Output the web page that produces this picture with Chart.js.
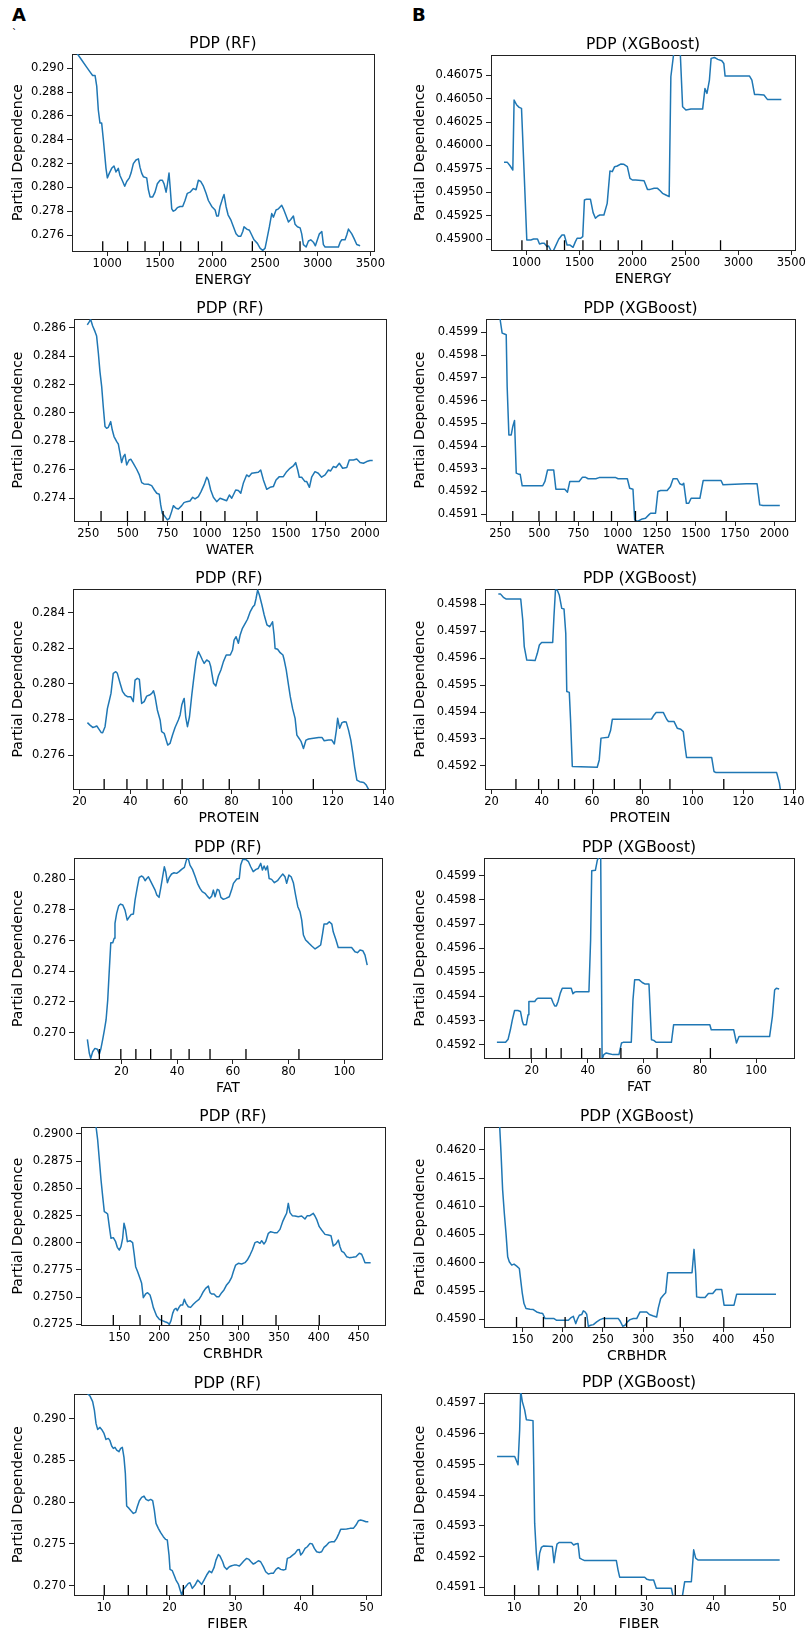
<!DOCTYPE html>
<html>
<head>
<meta charset="utf-8">
<script src="https://cdn.jsdelivr.net/npm/chart.js@4.4.1/dist/chart.umd.min.js"></script>
<style>
  body { margin: 0; background: #fff; width: 807px; height: 1637px; position: relative; overflow: hidden; font-family: 'DejaVu Sans', sans-serif; }
  canvas { position: absolute; }
  .tag { position: absolute; font-weight: bold; font-size: 18px; line-height: 18px; color: #000; }
</style>
</head>
<body>
<div class="tag" style="left:12px;top:6px">A</div>
<div class="tag" style="left:412px;top:6px">B</div>
<div class="tag" style="left:12px;top:25px;font-size:10px;font-weight:normal">`</div>
<script>
// x ranges of each feature (shared by the RF and XGBoost panels)
var energyRange = [665, 3535];
var waterRange = [160, 2132];
var proteinRange = [17.4, 140.6];
var fatRange = [3.0, 113.5];
var crbRange = [102, 483];
var fiberRange = [5.45, 52.2];

// deciles drawn as the rug at the bottom
var energyDeciles = [957, 1194, 1359, 1533, 1698, 1866, 2088, 2379, 2832];
var waterDeciles = [331, 498, 608, 723, 845, 961, 1114, 1317, 1693];
var proteinDeciles = [29.7, 38.7, 46.6, 53, 60.5, 68.8, 79.1, 90.9, 112.3];
var fatDeciles = [12.1, 19.8, 25.2, 30.5, 37.8, 44.3, 51.8, 64.7, 83.7];
var crbDeciles = [142.5, 176, 203, 228, 252, 279.6, 304.6, 346.4, 400.6];
var fiberDeciles = [10.06, 13.72, 16.52, 19.57, 22.1, 25.3, 29.2, 34.3, 41.8];

// x tick labels
var energyXTicks = [1000, 1500, 2000, 2500, 3000, 3500];
var waterXTicks = [250, 500, 750, 1000, 1250, 1500, 1750, 2000];
var proteinXTicks = [20, 40, 60, 80, 100, 120, 140];
var fatXTicks = [20, 40, 60, 80, 100];
var crbXTicks = [150, 200, 250, 300, 350, 400, 450];
var fiberXTicks = [10, 20, 30, 40, 50];

// y tick labels
var energyRfTicks = [0.276, 0.278, 0.280, 0.282, 0.284, 0.286, 0.288, 0.290];
var energyXgbTicks = [0.45900, 0.45925, 0.45950, 0.45975, 0.46000, 0.46025, 0.46050, 0.46075];
var waterRfTicks = [0.274, 0.276, 0.278, 0.280, 0.282, 0.284, 0.286];
var waterXgbTicks = [0.4591, 0.4592, 0.4593, 0.4594, 0.4595, 0.4596, 0.4597, 0.4598, 0.4599];
var proteinRfTicks = [0.276, 0.278, 0.280, 0.282, 0.284];
var proteinXgbTicks = [0.4592, 0.4593, 0.4594, 0.4595, 0.4596, 0.4597, 0.4598];
var fatRfTicks = [0.270, 0.272, 0.274, 0.276, 0.278, 0.280];
var fatXgbTicks = [0.4592, 0.4593, 0.4594, 0.4595, 0.4596, 0.4597, 0.4598, 0.4599];
var crbRfTicks = [0.2725, 0.2750, 0.2775, 0.2800, 0.2825, 0.2850, 0.2875, 0.2900];
var crbXgbTicks = [0.4590, 0.4595, 0.4600, 0.4605, 0.4610, 0.4615, 0.4620];
var fiberRfTicks = [0.270, 0.275, 0.280, 0.285, 0.290];
var fiberXgbTicks = [0.4591, 0.4592, 0.4593, 0.4594, 0.4595, 0.4596, 0.4597];

// y limits of each panel
var energyRfLim = [0.27466, 0.2912];
var energyXgbLim = [0.458886, 0.460964];
var waterRfLim = [0.2724, 0.28661];
var waterXgbLim = [0.459070, 0.459959];
var proteinRfLim = [0.27409, 0.28533];
var proteinXgbLim = [0.459114, 0.459857];
var fatRfLim = [0.26829, 0.28137];
var fatXgbLim = [0.459145, 0.459974];
var crbRfLim = [0.27244, 0.29064];
var crbXgbLim = [0.458863, 0.462403];
var fiberRfLim = [0.26889, 0.29296];
var fiberXgbLim = [0.459075, 0.459733];

// partial dependence curves
var energyRfX = [709,757,804,836,861,884,900,915,931,947,963,988,1001,1020,1042,1064,1083,1105,1121,1147,1166,1185,1210,1226,1248,1273,1296,1311,1327,1343,1375,1391,1407,1432,1454,1476,1502,1524,1540,1559,1571,1587,1597,1613,1628,1647,1666,1692,1717,1739,1761,1787,1818,1844,1866,1888,1914,1939,1961,1993,2025,2040,2056,2072,2097,2110,2129,2148,2173,2199,2224,2246,2269,2288,2300,2326,2351,2373,2395,2427,2452,2478,2500,2516,2541,2563,2579,2604,2627,2658,2674,2696,2722,2744,2769,2785,2807,2833,2848,2864,2890,2912,2934,2959,2978,2997,3016,3039,3054,3070,3102,3149,3197,3213,3229,3260,3276,3292,3324,3346,3371,3403];
var energyRfY = [0.2913,0.2907,0.2901,0.2897,0.2894,0.2894,0.2885,0.2865,0.2854,0.2854,0.2840,0.2816,0.2808,0.2812,0.2816,0.2818,0.2813,0.2816,0.2810,0.2805,0.2801,0.2805,0.2808,0.2812,0.2820,0.2823,0.2824,0.2817,0.2812,0.2809,0.2808,0.2798,0.2792,0.2792,0.2796,0.2803,0.2806,0.2806,0.2803,0.2796,0.2802,0.2812,0.2801,0.2782,0.2780,0.2781,0.2783,0.2784,0.2784,0.2789,0.2795,0.2796,0.2799,0.2798,0.2806,0.2805,0.2801,0.2795,0.2789,0.2784,0.2781,0.2776,0.2776,0.2784,0.2791,0.2794,0.2784,0.2777,0.2773,0.2767,0.2761,0.2759,0.2759,0.2763,0.2767,0.2765,0.2764,0.2760,0.2756,0.2753,0.2749,0.2747,0.2749,0.2756,0.2767,0.2778,0.2775,0.2781,0.2782,0.2785,0.2782,0.2777,0.2771,0.2773,0.2776,0.2769,0.2767,0.2766,0.2761,0.2752,0.2750,0.2755,0.2756,0.2754,0.2751,0.2756,0.2761,0.2763,0.2752,0.2750,0.2750,0.2750,0.2750,0.2754,0.2756,0.2756,0.2760,0.2765,0.2761,0.2757,0.2752,0.2751];

var energyXgbX = [788,820,845,871,883,908,931,953,978,1003,1041,1067,1104,1123,1146,1168,1193,1209,1231,1250,1272,1304,1335,1357,1383,1408,1440,1462,1478,1509,1531,1547,1566,1604,1629,1651,1674,1693,1731,1762,1788,1810,1832,1857,1889,1920,1952,1977,2000,2031,2110,2126,2142,2167,2205,2237,2262,2284,2316,2347,2363,2388,2410,2452,2474,2505,2553,2616,2663,2685,2704,2727,2743,2774,2806,2844,2863,2875,2916,3106,3128,3153,3185,3242,3274,3312,3406];
var energyXgbY = [0.459820,0.459820,0.459784,0.459738,0.460484,0.460431,0.460406,0.460395,0.459703,0.458993,0.458993,0.459003,0.459003,0.458950,0.458957,0.458957,0.458922,0.458929,0.458879,0.458868,0.458922,0.459000,0.459046,0.459046,0.458940,0.458940,0.458915,0.458975,0.459011,0.459011,0.459028,0.459419,0.459426,0.459426,0.459284,0.459224,0.459248,0.459259,0.459259,0.459383,0.459728,0.459721,0.459774,0.459781,0.459802,0.459799,0.459774,0.459650,0.459632,0.459632,0.459625,0.459579,0.459532,0.459532,0.459543,0.459543,0.459518,0.459490,0.459472,0.459454,0.460732,0.460963,0.461016,0.460981,0.460413,0.460377,0.460388,0.460388,0.460388,0.460608,0.460555,0.460697,0.460928,0.460938,0.460917,0.460903,0.460874,0.460739,0.460739,0.460739,0.460697,0.460544,0.460544,0.460537,0.460491,0.460491,0.460491];

var waterRfX = [244,257,265,278,293,303,314,324,335,345,356,366,377,392,402,413,430,440,451,461,472,482,493,508,520,535,556,573,588,602,630,651,668,683,699,708,718,735,750,763,777,788,805,820,841,855,872,893,910,925,946,963,982,999,1009,1024,1041,1062,1083,1100,1125,1142,1157,1167,1182,1199,1214,1230,1251,1266,1283,1304,1325,1340,1357,1378,1399,1420,1437,1458,1483,1504,1525,1546,1561,1574,1584,1599,1620,1631,1648,1662,1683,1704,1725,1747,1768,1782,1799,1816,1837,1858,1884,1900,1926,1947,1968,1989,2010,2031,2048];
var waterRfY = [0.28619,0.28642,0.28659,0.28612,0.28572,0.28541,0.28420,0.28291,0.28185,0.28044,0.27904,0.27892,0.27899,0.27939,0.27880,0.27834,0.27798,0.27782,0.27716,0.27651,0.27693,0.27709,0.27634,0.27669,0.27674,0.27646,0.27604,0.27564,0.27510,0.27501,0.27498,0.27489,0.27458,0.27435,0.27428,0.27353,0.27294,0.27271,0.27248,0.27259,0.27306,0.27348,0.27330,0.27325,0.27348,0.27369,0.27376,0.27381,0.27407,0.27395,0.27412,0.27447,0.27494,0.27548,0.27529,0.27458,0.27407,0.27376,0.27400,0.27393,0.27383,0.27423,0.27400,0.27423,0.27458,0.27454,0.27435,0.27505,0.27564,0.27552,0.27576,0.27580,0.27583,0.27599,0.27529,0.27463,0.27477,0.27482,0.27529,0.27552,0.27552,0.27587,0.27611,0.27627,0.27651,0.27599,0.27548,0.27548,0.27517,0.27517,0.27477,0.27548,0.27587,0.27576,0.27548,0.27564,0.27599,0.27592,0.27623,0.27616,0.27646,0.27611,0.27616,0.27669,0.27669,0.27676,0.27651,0.27646,0.27658,0.27665,0.27665];

var waterXgbX = [244,252,263,278,289,295,306,321,331,342,353,368,378,391,410,522,536,553,568,592,606,621,663,680,695,706,754,776,793,812,861,882,988,1003,1062,1077,1098,1109,1126,1157,1178,1199,1210,1242,1257,1274,1316,1337,1354,1380,1397,1412,1422,1439,1454,1469,1525,1546,1660,1673,1822,1890,1907,1928,2035];
var waterXgbY = [0.460000,0.459948,0.459897,0.459893,0.459890,0.459662,0.459449,0.459449,0.459486,0.459512,0.459281,0.459276,0.459276,0.459225,0.459225,0.459225,0.459244,0.459295,0.459295,0.459295,0.459210,0.459210,0.459210,0.459197,0.459244,0.459244,0.459244,0.459263,0.459263,0.459256,0.459256,0.459261,0.459261,0.459256,0.459256,0.459214,0.459210,0.459075,0.459068,0.459079,0.459082,0.459097,0.459104,0.459104,0.459200,0.459204,0.459204,0.459222,0.459256,0.459256,0.459234,0.459229,0.459236,0.459148,0.459148,0.459170,0.459170,0.459248,0.459248,0.459229,0.459234,0.459234,0.459141,0.459138,0.459138];

var proteinRfX = [23.1,24.1,25.2,26.1,26.8,27.7,28.5,29.1,30.05,31.0,31.8,32.4,33.3,34.3,34.9,36.0,37.0,37.95,38.9,40.2,41.2,41.9,42.8,43.6,44.5,45.5,46.5,47.6,48.5,49.2,49.8,50.7,51.8,52.4,53.4,54.2,54.8,55.7,56.7,57.7,59.0,59.7,60.35,61.0,61.3,61.9,62.6,63.4,64.3,65.0,66.0,66.9,67.6,68.5,69.2,70.2,71.2,71.8,72.9,73.8,74.8,75.8,76.8,77.9,79.5,80.4,81.0,81.8,82.7,83.4,84.3,85.4,86.3,87.4,88.3,89.1,89.7,90.3,91.0,92.0,92.9,94.0,95.0,95.5,96.2,96.8,97.2,98.2,99.2,100.3,100.8,101.6,102.5,103.2,104.1,105.1,105.8,106.7,107.5,108.4,109.4,110.4,111.7,114.4,115.7,116.6,118.3,119.6,120.6,121.4,121.9,122.7,123.6,124.5,125.3,126.2,127.1,127.9,128.6,129.5,130.6,132.2,133.2,134.1,135.05];
var proteinRfY = [0.27782,0.27768,0.27755,0.27759,0.27763,0.27744,0.27727,0.27725,0.27759,0.27862,0.27909,0.27946,0.28059,0.28068,0.28059,0.28003,0.27956,0.27937,0.27928,0.27928,0.27900,0.28021,0.28031,0.28025,0.27890,0.27900,0.27931,0.27937,0.27946,0.27961,0.27928,0.27853,0.27797,0.27731,0.27722,0.27684,0.27656,0.27665,0.27712,0.27755,0.27797,0.27825,0.27881,0.27909,0.27918,0.27815,0.27759,0.27815,0.27937,0.28021,0.28134,0.28181,0.28162,0.28134,0.28115,0.28134,0.28125,0.28096,0.28003,0.27988,0.28044,0.28078,0.28125,0.28162,0.28162,0.28190,0.28246,0.28265,0.28228,0.28274,0.28312,0.28340,0.28363,0.28406,0.28430,0.28443,0.28481,0.28527,0.28499,0.28443,0.28387,0.28331,0.28321,0.28331,0.28349,0.28274,0.28199,0.28194,0.28175,0.28162,0.28134,0.28078,0.27993,0.27928,0.27862,0.27806,0.27712,0.27693,0.27675,0.27637,0.27684,0.27690,0.27693,0.27699,0.27699,0.27680,0.27684,0.27684,0.27662,0.27740,0.27806,0.27750,0.27782,0.27787,0.27785,0.27740,0.27684,0.27609,0.27534,0.27459,0.27450,0.27446,0.27431,0.27407,0.27394];

var proteinXgbX = [22.7,23.6,24.7,25.7,31.6,32.4,33.0,34.0,37.3,38.2,39.0,39.9,44.3,44.8,45.4,46.1,46.9,47.9,48.8,49.5,49.9,50.9,51.4,52.1,62.0,62.8,63.5,66.4,67.3,68.0,83.6,84.6,85.4,88.3,89.6,90.3,92.5,93.8,95.2,96.2,96.9,97.5,107.5,108.4,109.2,133.3,134.4,134.9];
var proteinXgbY = [0.459838,0.459838,0.459826,0.459820,0.459820,0.459742,0.459643,0.459593,0.459591,0.459618,0.459649,0.459658,0.459658,0.459754,0.459853,0.459853,0.459835,0.459785,0.459783,0.459692,0.459476,0.459473,0.459371,0.459198,0.459195,0.459222,0.459303,0.459306,0.459331,0.459373,0.459374,0.459389,0.459398,0.459398,0.459373,0.459365,0.459365,0.459340,0.459336,0.459327,0.459272,0.459231,0.459231,0.459179,0.459175,0.459175,0.459136,0.459105];

var fatRfX = [7.8,8.5,9.0,9.7,10.5,11.4,12.1,12.6,13.3,13.9,14.5,15.1,15.6,16.2,16.9,17.4,17.7,18.3,19.0,19.7,20.5,21.3,22.1,22.9,23.5,24.3,24.9,25.7,26.4,27.3,27.9,28.5,29.1,29.7,30.3,31.2,32.1,32.7,33.5,34.1,34.7,35.4,35.9,36.5,37.2,38.0,38.9,39.8,40.7,41.6,42.6,43.4,44.0,44.6,45.5,46.4,47.3,48.2,49.0,50.0,50.8,51.6,52.4,53.0,53.6,54.4,55.0,55.7,56.6,57.5,58.7,59.6,60.2,61.4,62.3,62.8,63.5,64.6,65.6,66.4,67.3,68.3,69.1,70.0,70.6,71.2,71.8,72.4,73.0,73.9,74.9,76.0,76.9,77.9,78.7,79.3,80.1,80.9,81.7,82.5,83.3,84.1,84.7,85.3,86.1,87.1,88.3,89.5,90.7,91.5,92.2,92.7,93.7,94.6,95.5,96.0,97.0,97.8,99.0,102.6,103.8,104.7,105.6,106.6,107.4,108.2];
var fatRfY = [0.26957,0.26866,0.26833,0.26876,0.26898,0.26892,0.26861,0.26892,0.26957,0.27017,0.27083,0.27213,0.27386,0.27586,0.27586,0.27614,0.27712,0.27777,0.27824,0.27837,0.27831,0.27798,0.27733,0.27755,0.27770,0.27772,0.27863,0.27946,0.28011,0.28020,0.28011,0.27989,0.28004,0.28015,0.27993,0.27961,0.27928,0.27896,0.27881,0.27939,0.28004,0.28080,0.28048,0.27976,0.28011,0.28033,0.28041,0.28037,0.28048,0.28063,0.28076,0.28128,0.28134,0.28091,0.28063,0.28020,0.27972,0.27939,0.27918,0.27907,0.27889,0.27874,0.27889,0.27928,0.27885,0.27933,0.27928,0.27881,0.27868,0.27874,0.27885,0.27933,0.27972,0.28000,0.28004,0.28091,0.28128,0.28128,0.28113,0.28080,0.28048,0.28063,0.28069,0.28102,0.28059,0.28085,0.28059,0.28085,0.28004,0.27998,0.27976,0.27989,0.28011,0.28033,0.28015,0.27972,0.28026,0.28015,0.27976,0.27896,0.27820,0.27787,0.27733,0.27636,0.27603,0.27586,0.27564,0.27545,0.27560,0.27571,0.27646,0.27707,0.27707,0.27722,0.27707,0.27657,0.27603,0.27555,0.27555,0.27555,0.27527,0.27521,0.27538,0.27534,0.27505,0.27440];

var fatXgbX = [7.6,10.7,11.6,12.4,13.1,13.9,15.1,16.0,16.7,17.1,18.1,18.7,19.0,21.1,21.7,22.3,27.0,27.6,28.2,28.8,29.4,30.2,30.9,34.1,34.7,35.3,35.9,40.4,41.0,41.4,42.7,43.4,44.0,44.6,45.1,45.7,46.6,47.6,49.0,51.1,52.0,52.6,55.5,56.1,56.7,58.3,59.4,60.3,61.8,62.7,63.5,64.4,69.8,70.6,83.5,84.0,92.0,93.0,93.9,104.8,105.8,106.6,107.2,108.2];
var fatXgbY = [0.459210,0.459210,0.459223,0.459262,0.459303,0.459342,0.459342,0.459338,0.459296,0.459283,0.459283,0.459324,0.459379,0.459379,0.459389,0.459393,0.459393,0.459375,0.459361,0.459361,0.459379,0.459414,0.459434,0.459434,0.459411,0.459418,0.459420,0.459420,0.459634,0.459921,0.459923,0.459965,0.459979,0.459979,0.459140,0.459159,0.459166,0.459163,0.459159,0.459159,0.459207,0.459210,0.459210,0.459386,0.459469,0.459469,0.459458,0.459452,0.459452,0.459221,0.459218,0.459210,0.459210,0.459283,0.459283,0.459262,0.459262,0.459207,0.459234,0.459234,0.459317,0.459427,0.459434,0.459431];

var crbRfX = [120.8,122.9,125.0,127.1,129.2,131.2,133.3,135.4,137.5,139.6,142.5,145.4,147.5,150.0,152.1,154.2,155.9,158.0,160.1,163.4,166.7,168.8,170.5,173.0,175.9,178.0,180.1,183.0,185.5,188.5,190.6,192.6,194.7,196.8,200.2,203.9,207.3,210.6,212.7,214.8,216.9,219.0,221.1,222.7,224.8,226.9,229.4,231.5,233.6,236.5,239.4,242.8,246.1,249.9,252.4,255.3,258.2,261.6,263.7,265.7,268.7,272.0,275.0,278.3,281.2,284.5,287.9,290.8,292.9,295.8,299.2,303.3,307.5,310.4,313.8,316.7,320.0,323.0,326.3,328.4,331.3,333.4,336.8,339.7,343.9,348.0,351.4,354.7,357.6,359.7,361.8,363.9,366.8,370.2,374.3,378.5,382.7,385.6,388.9,393.1,395.2,397.3,400.6,403.6,407.8,411.9,415.3,418.2,421.5,424.5,426.6,428.6,431.6,434.9,438.3,442.4,446.6,450.8,453.7,455.8,457.9,462.1,465.0];
var crbRfY = [0.29070,0.28945,0.28761,0.28577,0.28424,0.28286,0.28277,0.28264,0.28148,0.28041,0.28047,0.28010,0.27958,0.27933,0.27964,0.28041,0.28179,0.28117,0.28010,0.28019,0.28001,0.27887,0.27780,0.27734,0.27673,0.27627,0.27495,0.27529,0.27541,0.27520,0.27467,0.27406,0.27366,0.27327,0.27296,0.27284,0.27274,0.27265,0.27250,0.27284,0.27351,0.27388,0.27397,0.27376,0.27406,0.27428,0.27428,0.27480,0.27443,0.27412,0.27406,0.27434,0.27458,0.27480,0.27510,0.27550,0.27581,0.27602,0.27541,0.27529,0.27529,0.27504,0.27504,0.27541,0.27566,0.27612,0.27642,0.27682,0.27734,0.27795,0.27811,0.27805,0.27817,0.27841,0.27887,0.27933,0.28001,0.28010,0.27995,0.28019,0.27989,0.28010,0.28087,0.28102,0.28093,0.28093,0.28123,0.28194,0.28240,0.28271,0.28362,0.28277,0.28249,0.28246,0.28240,0.28246,0.28218,0.28249,0.28249,0.28271,0.28246,0.28215,0.28148,0.28117,0.28077,0.28071,0.28065,0.27970,0.27989,0.28025,0.27964,0.27924,0.27909,0.27872,0.27863,0.27866,0.27872,0.27903,0.27894,0.27857,0.27817,0.27817,0.27817];

var crbXgbX = [121.1,123.2,125.2,127.3,129.4,131.5,133.5,136.5,139.4,142.7,146.0,147.7,149.7,151.8,154.3,159.3,163.4,167.6,171.7,175.1,178.0,189.2,192.5,207.0,209.9,213.2,216.2,218.6,220.7,223.6,225.7,227.8,229.9,231.9,234.8,238.2,242.3,246.5,249.8,269.3,271.4,274.7,277.6,280.5,283.8,288.0,292.1,296.3,304.6,307.9,312.9,317.0,319.1,322.0,325.3,328.2,330.7,361.0,363.5,365.6,366.8,371.0,377.2,381.4,386.8,390.9,398.0,400.9,413.3,416.6,465.6];
var crbXgbY = [0.462533,0.461941,0.461290,0.460876,0.460521,0.460107,0.460018,0.459959,0.459976,0.459941,0.459899,0.459692,0.459456,0.459278,0.459189,0.459178,0.459172,0.459130,0.459112,0.459101,0.459012,0.459012,0.458982,0.458982,0.459024,0.459053,0.458923,0.459012,0.459071,0.459083,0.459148,0.459130,0.459089,0.458876,0.458894,0.458905,0.458953,0.458994,0.459012,0.459012,0.458970,0.458876,0.458894,0.458953,0.458994,0.459012,0.459012,0.459130,0.459130,0.459083,0.459059,0.459041,0.459207,0.459367,0.459426,0.459468,0.459823,0.459823,0.460237,0.459811,0.459396,0.459385,0.459385,0.459456,0.459456,0.459527,0.459527,0.459249,0.459249,0.459444,0.459444];

var fiberRfX = [7.48,7.89,8.29,8.55,8.80,9.05,9.41,9.66,10.02,10.32,10.68,10.93,11.19,11.44,11.69,11.95,12.30,12.56,12.81,13.06,13.27,13.47,13.83,14.13,14.49,14.84,15.09,15.40,15.75,16.11,16.41,16.77,17.12,17.43,17.68,17.94,18.29,18.65,19.05,19.41,19.66,19.92,20.07,20.42,20.68,20.98,21.34,21.59,21.85,22.10,22.45,22.86,23.11,23.47,23.88,24.28,24.54,24.89,25.25,25.65,26.06,26.41,26.77,27.07,27.43,27.68,28.09,28.34,28.70,29.10,29.46,29.81,30.22,30.63,30.98,31.34,31.74,32.10,32.40,32.76,33.11,33.52,33.87,34.28,34.64,35.04,35.40,35.80,36.21,36.56,36.92,37.33,37.68,37.94,38.34,38.75,39.10,39.46,39.76,39.97,40.27,40.63,40.98,41.39,41.74,42.05,42.40,42.81,43.16,43.52,43.93,44.28,44.69,45.09,45.45,45.80,46.06,46.46,46.97,47.48,47.99,48.39,48.75,49.10,49.51,49.91,50.27];
var fiberRfY = [0.29303,0.29271,0.29204,0.29104,0.28944,0.28872,0.28896,0.28872,0.28824,0.28752,0.28764,0.28737,0.28673,0.28645,0.28657,0.28625,0.28605,0.28645,0.28657,0.28537,0.28345,0.27954,0.27926,0.27898,0.27866,0.27878,0.27946,0.28018,0.28058,0.28074,0.28034,0.28018,0.28034,0.28018,0.27906,0.27747,0.27687,0.27635,0.27587,0.27555,0.27547,0.27367,0.27196,0.27180,0.27128,0.27068,0.27020,0.26956,0.26888,0.26956,0.26988,0.27028,0.27036,0.26968,0.27008,0.27068,0.27048,0.27016,0.27068,0.27128,0.27176,0.27156,0.27216,0.27307,0.27375,0.27355,0.27287,0.27228,0.27196,0.27228,0.27240,0.27247,0.27247,0.27236,0.27267,0.27299,0.27327,0.27315,0.27287,0.27259,0.27275,0.27299,0.27287,0.27228,0.27168,0.27140,0.27148,0.27148,0.27196,0.27216,0.27196,0.27188,0.27196,0.27327,0.27339,0.27367,0.27387,0.27427,0.27435,0.27367,0.27395,0.27447,0.27467,0.27507,0.27499,0.27447,0.27407,0.27399,0.27407,0.27459,0.27487,0.27519,0.27527,0.27527,0.27567,0.27627,0.27675,0.27675,0.27679,0.27687,0.27687,0.27727,0.27778,0.27786,0.27778,0.27766,0.27766];

var fiberXgbX = [7.42,10.08,10.33,10.58,10.83,10.98,11.23,11.58,11.84,12.84,13.09,13.34,13.59,13.84,14.10,14.45,15.76,16.01,16.21,16.46,16.76,18.62,18.97,19.27,19.63,19.88,20.23,20.63,25.41,25.66,25.91,29.68,30.03,30.43,31.03,31.44,33.70,33.95,35.36,35.71,36.72,37.07,37.37,37.72,50.04];
var fiberXgbY = [0.459526,0.459526,0.459513,0.459499,0.459613,0.459740,0.459705,0.459678,0.459646,0.459643,0.459309,0.459211,0.459157,0.459211,0.459230,0.459235,0.459233,0.459180,0.459211,0.459241,0.459246,0.459246,0.459238,0.459241,0.459243,0.459195,0.459191,0.459187,0.459187,0.459157,0.459133,0.459133,0.459126,0.459124,0.459124,0.459097,0.459097,0.459070,0.459070,0.459118,0.459118,0.459222,0.459195,0.459189,0.459189];

// panel table: plot box [left, top, right, bottom] in page pixels
var panels = [
  { box: [72, 54, 374, 251],   title: 'PDP (RF)',      feat: 'ENERGY',  xr: energyRange,  yr: energyRfLim,   xs: energyRfX,   ys: energyRfY,   xt: energyXTicks,  yt: energyRfTicks,   dec: 3, rug: energyDeciles },
  { box: [491, 55, 795, 250],  title: 'PDP (XGBoost)', feat: 'ENERGY',  xr: energyRange,  yr: energyXgbLim,  xs: energyXgbX,  ys: energyXgbY,  xt: energyXTicks,  yt: energyXgbTicks,  dec: 5, rug: energyDeciles },
  { box: [74, 319, 386, 521],  title: 'PDP (RF)',      feat: 'WATER',   xr: waterRange,   yr: waterRfLim,    xs: waterRfX,    ys: waterRfY,    xt: waterXTicks,   yt: waterRfTicks,    dec: 3, rug: waterDeciles },
  { box: [486, 319, 795, 521], title: 'PDP (XGBoost)', feat: 'WATER',   xr: waterRange,   yr: waterXgbLim,   xs: waterXgbX,   ys: waterXgbY,   xt: waterXTicks,   yt: waterXgbTicks,   dec: 4, rug: waterDeciles },
  { box: [73, 589, 385, 789],  title: 'PDP (RF)',      feat: 'PROTEIN', xr: proteinRange, yr: proteinRfLim,  xs: proteinRfX,  ys: proteinRfY,  xt: proteinXTicks, yt: proteinRfTicks,  dec: 3, rug: proteinDeciles },
  { box: [485, 589, 795, 789], title: 'PDP (XGBoost)', feat: 'PROTEIN', xr: proteinRange, yr: proteinXgbLim, xs: proteinXgbX, ys: proteinXgbY, xt: proteinXTicks, yt: proteinXgbTicks, dec: 4, rug: proteinDeciles },
  { box: [74, 858, 382, 1059], title: 'PDP (RF)',      feat: 'FAT',     xr: fatRange,     yr: fatRfLim,      xs: fatRfX,      ys: fatRfY,      xt: fatXTicks,     yt: fatRfTicks,      dec: 3, rug: fatDeciles },
  { box: [484, 858, 794, 1058],title: 'PDP (XGBoost)', feat: 'FAT',     xr: fatRange,     yr: fatXgbLim,     xs: fatXgbX,     ys: fatXgbY,     xt: fatXTicks,     yt: fatXgbTicks,     dec: 4, rug: fatDeciles },
  { box: [81, 1127, 385, 1325],title: 'PDP (RF)',      feat: 'CRBHDR',  xr: crbRange,     yr: crbRfLim,      xs: crbRfX,      ys: crbRfY,      xt: crbXTicks,     yt: crbRfTicks,      dec: 4, rug: crbDeciles },
  { box: [484, 1127, 790, 1327],title: 'PDP (XGBoost)',feat: 'CRBHDR',  xr: crbRange,     yr: crbXgbLim,     xs: crbXgbX,     ys: crbXgbY,     xt: crbXTicks,     yt: crbXgbTicks,     dec: 4, rug: crbDeciles },
  { box: [74, 1394, 381, 1595],title: 'PDP (RF)',      feat: 'FIBER',   xr: fiberRange,   yr: fiberRfLim,    xs: fiberRfX,    ys: fiberRfY,    xt: fiberXTicks,   yt: fiberRfTicks,    dec: 3, rug: fiberDeciles },
  { box: [484, 1393, 794, 1595],title: 'PDP (XGBoost)',feat: 'FIBER',   xr: fiberRange,   yr: fiberXgbLim,   xs: fiberXgbX,   ys: fiberXgbY,   xt: fiberXTicks,   yt: fiberXgbTicks,   dec: 4, rug: fiberDeciles }
];

Chart.defaults.font.family = "'DejaVu Sans', sans-serif";
Chart.defaults.color = '#000';

// decile rug: short black lines standing on the x axis
var rugPlugin = {
  id: 'rug',
  afterDatasetsDraw: function (chart, args, opts) {
    var ctx = chart.ctx, area = chart.chartArea, x = chart.scales.x;
    var len = (area.bottom - area.top) * 0.05;
    ctx.save();
    ctx.strokeStyle = '#000';
    ctx.lineWidth = 1.3;
    ctx.beginPath();
    opts.values.forEach(function (v) {
      var px = x.getPixelForValue(v);
      ctx.moveTo(px, area.bottom);
      ctx.lineTo(px, area.bottom - len);
    });
    ctx.stroke();
    ctx.restore();
  }
};

function pairs(xs, ys) {
  return xs.map(function (x, i) { return { x: x, y: ys[i] }; });
}

var frame = '#222';
var hTop = 19, hBottom = 38, wRight = 22;

panels.forEach(function (p) {
  var pl = p.box[0], pt = p.box[1], pr = p.box[2], pb = p.box[3];
  var canvasLeft = pl < 400 ? 10 : 412;
  var wy = pl - canvasLeft;
  var cv = document.createElement('canvas');
  cv.width = wy + (pr - pl) + wRight;
  cv.height = hTop + (pb - pt) + hBottom;
  cv.style.left = canvasLeft + 'px';
  cv.style.top = (pt - hTop) + 'px';
  document.body.appendChild(cv);

  new Chart(cv, {
    type: 'line',
    data: {
      datasets: [{
        data: pairs(p.xs, p.ys),
        borderColor: '#1f77b4',
        borderWidth: 1.5,
        pointRadius: 0,
        tension: 0,
        fill: false,
        borderJoinStyle: 'round'
      }]
    },
    options: {
      responsive: false,
      animation: false,
      events: [],
      layout: { padding: 0, autoPadding: false },
      plugins: {
        legend: { display: false },
        tooltip: { enabled: false },
        rug: { values: p.rug }
      },
      scales: {
        x: {
          type: 'linear', position: 'bottom', min: p.xr[0], max: p.xr[1],
          afterBuildTicks: function (s) { s.ticks = p.xt.map(function (v) { return { value: v }; }); },
          afterFit: function (s) { s.height = hBottom; },
          ticks: { autoSkip: false, maxRotation: 0, padding: 1, font: { size: 11.5 }, color: '#000',
                   callback: function (v) { return String(v); } },
          grid: { display: true, drawOnChartArea: false, drawTicks: true, tickLength: 5, color: frame, lineWidth: 1 },
          border: { display: true, color: frame, width: 1 },
          title: { display: true, text: p.feat, font: { size: 14 }, color: '#000', padding: 0 }
        },
        x2: {
          type: 'linear', position: 'top', display: true, min: p.xr[0], max: p.xr[1],
          afterFit: function (s) { s.height = hTop; },
          ticks: { display: false },
          grid: { display: false },
          border: { display: true, color: frame, width: 1 },
          title: { display: true, text: p.title, font: { size: 15.5 }, color: '#000', padding: 0 }
        },
        y: {
          type: 'linear', position: 'left', min: p.yr[0], max: p.yr[1],
          afterBuildTicks: function (s) { s.ticks = p.yt.map(function (v) { return { value: v }; }); },
          afterFit: function (s) { s.width = wy; },
          ticks: { autoSkip: false, padding: 3, font: { size: 11.5 }, color: '#000',
                   callback: function (v) { return Number(v).toFixed(p.dec); } },
          grid: { display: true, drawOnChartArea: false, drawTicks: true, tickLength: 5, color: frame, lineWidth: 1 },
          border: { display: true, color: frame, width: 1 },
          title: { display: true, text: 'Partial Dependence', font: { size: 14 }, color: '#000', padding: 0 }
        },
        y2: {
          type: 'linear', position: 'right', display: true, min: p.yr[0], max: p.yr[1],
          afterFit: function (s) { s.width = wRight; },
          ticks: { display: false },
          grid: { display: false },
          border: { display: true, color: frame, width: 1 }
        }
      }
    },
    plugins: [rugPlugin]
  });
});
</script>
</body>
</html>
